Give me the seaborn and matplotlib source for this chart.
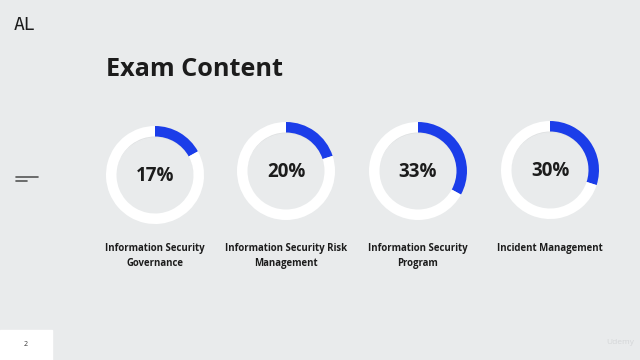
import matplotlib
matplotlib.use('Agg')
import matplotlib.pyplot as plt
import seaborn as sns

# slide data
percents = [17, 20, 33, 30]
labels = ['Information Security\nGovernance',
          'Information Security Risk\nManagement',
          'Information Security\nProgram',
          'Incident Management']
title = 'Exam Content'
page_number = '2'

BG = '#e9ebec'
BLUE = '#1b3de9'
DARK = '#1c1c1c'

sns.set_theme(style='white')
plt.rcParams['font.family'] = ['Open Sans', 'DejaVu Sans']

fig = plt.figure(figsize=(6.4, 3.6), dpi=100, facecolor=BG)
ax = fig.add_axes([0, 0, 1, 1])
ax.set_xlim(0, 640)
ax.set_ylim(360, 0)
ax.set_facecolor(BG)
ax.axis('off')

# logo + decorations
ax.text(25, 25, 'AL', fontsize=13, color=DARK,
        ha='center', va='center', family='DejaVu Sans Mono')
ax.plot([16, 38], [177, 177], color='#555555', lw=1.2)
ax.plot([16, 27], [181, 181], color='#555555', lw=1.2)
ax.add_patch(plt.Rectangle((0, 330), 52, 30, color='white', zorder=1))
ax.text(26, 345, page_number, fontsize=5, ha='center', va='center', color='#333333')
ax.text(620, 343, 'Udemy', fontsize=6, ha='center', va='center', color='#d4d6d8')

ax.text(106, 70, title, fontsize=18.2, fontweight='bold', color=DARK,
        ha='left', va='center')

centers_x = [155, 286, 418, 550]
centers_y = [175, 171, 171, 170]
r = 49
ring = 10.5
for p, lab, cx, cy in zip(percents, labels, centers_x, centers_y):
    # faint shadow inside the ring
    ax.add_patch(plt.Circle((cx, cy), r - ring + 1, color='#dfe1e2', zorder=1))
    ax.add_patch(plt.Circle((cx, cy + 1.5), r - ring, color=BG, zorder=1))
    pa = fig.add_axes([(cx - r) / 640, 1 - (cy + r) / 360, 2 * r / 640, 2 * r / 360])
    pa.pie([p, 100 - p], colors=[BLUE, 'white'], startangle=90, counterclock=False,
           wedgeprops=dict(width=ring / r, linewidth=0))
    pa.set_xlim(-1, 1)
    pa.set_ylim(-1, 1)
    pa.axis('off')
    ax.text(cx, cy + 1, f'{p}%', fontsize=13.5, fontweight='bold', color=DARK,
            ha='center', va='center')
    ax.text(cx, 242.5, lab, fontsize=6.9, fontweight='bold', color=DARK,
            ha='center', va='top', linespacing=1.6)

fig.savefig('out.png', dpi=100, facecolor=BG)
